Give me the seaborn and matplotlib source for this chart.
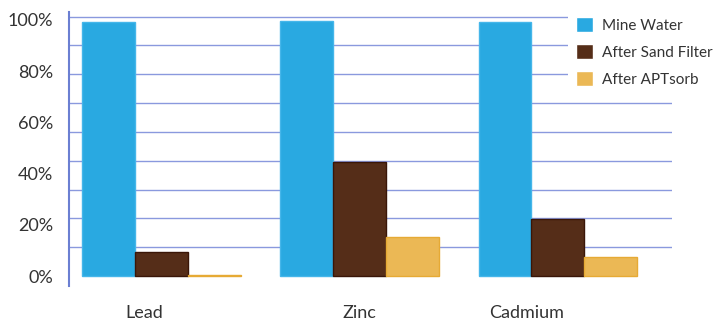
import numpy as np
import pandas as pd
import matplotlib
matplotlib.use("Agg")
import matplotlib.pyplot as plt
import seaborn as sns

metals = ["Lead", "Zinc", "Cadmium"]
series = ["Mine Water", "After Sand Filter", "After APTsorb"]
mine_water = [99.2, 99.5, 99.2]
after_sand = [9.5, 44.6, 22.3]
after_aptsorb = [0.5, 15.4, 7.5]
y_tick_values = [0, 20, 40, 60, 80, 100]
y_tick_labels = ["0%", "20%", "40%", "60%", "80%", "100%"]

colors = ["#29a9e1", "#552d18", "#ebb855"]
edges = ["#45b6ea", "#3a1608", "#e6aa35"]

df = pd.DataFrame({
    "metal": metals * 3,
    "series": [series[0]] * 3 + [series[1]] * 3 + [series[2]] * 3,
    "value": mine_water + after_sand + after_aptsorb,
})

sns.set_theme(style="white")
plt.rcParams["font.family"] = ["Lato", "DejaVu Sans"]

W, H = 716, 321
fig = plt.figure(figsize=(W / 100, H / 100), dpi=100)
ax = fig.add_axes([69 / W, 1 - 286 / H, (672 - 69) / W, (286 - 12) / H])

sns.barplot(data=df, x="metal", y="value", hue="series", order=metals,
            hue_order=series, palette=colors, width=0.8, saturation=1,
            ax=ax, zorder=3)

for cont, ec in zip(ax.containers, edges):
    for p in cont.patches:
        p.set_edgecolor(ec)
        p.set_linewidth(1.0)

ax.set_xlim(-0.468, 2.577)
ax.set_ylim(-3.9, 103.1)

# gridlines (9 equal bands)
grid_pos = np.linspace(0, 101.3, 10)
ax.set_yticks(grid_pos, minor=True)
ax.yaxis.grid(True, which="minor", color="#8a99de", linewidth=1.0, zorder=0)
ax.yaxis.grid(False, which="major")
ax.set_yticks(y_tick_values, y_tick_labels)
ax.tick_params(axis="y", which="major", length=0, pad=11.5,
               labelsize=13, labelcolor="#333333")
ax.tick_params(axis="y", which="minor", length=2, color="#8a99de", width=1)

ax.set_xticks([-0.09, 1.0, 1.845], metals)
ax.tick_params(axis="x", length=0, pad=14, labelsize=13, labelcolor="#333333")

for s in ["top", "right", "bottom"]:
    ax.spines[s].set_visible(False)
ax.spines["left"].set_color("#6b7fd2")
ax.spines["left"].set_linewidth(1.5)

ax.set_xlabel("")
ax.set_ylabel("")

handles, labels = ax.get_legend_handles_labels()
if ax.get_legend() is not None:
    ax.get_legend().remove()
leg = fig.legend(handles, labels, loc="upper left",
                 bbox_to_anchor=(568 / W, 1 - 9 / H),
                 frameon=True, facecolor="white", edgecolor="none",
                 framealpha=1, fontsize=11, handlelength=1.1,
                 handleheight=1.1, handletextpad=0.6, labelspacing=0.74,
                 borderpad=0.55, borderaxespad=0)
for t in leg.get_texts():
    t.set_color("#333333")
leg.set_zorder(10)

fig.savefig("out.png", dpi=100)
